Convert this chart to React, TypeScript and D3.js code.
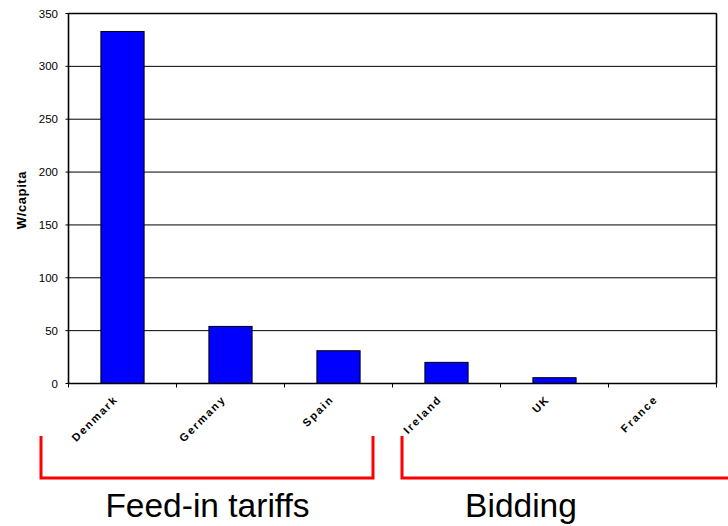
import React from "react";
import * as d3 from "d3";

const categories = ["Denmark", "Germany", "Spain", "Ireland", "UK", "France"];
const values = [333, 54, 31, 20, 5.5, 0];
const yTicks = [0, 50, 100, 150, 200, 250, 300, 350];
const yLabel = "W/capita";
const groups = [
  { label: "Feed-in tariffs", from: 41, to: 373, open: false },
  { label: "Bidding", from: 402, to: 740, open: true },
];

const W = 728;
const H = 526;
const plot = { left: 68.5, right: 716.5, top: 13.5, bottom: 383.5 };

export default function App() {
  const x = d3
    .scaleBand<string>()
    .domain(categories)
    .range([plot.left, plot.right])
    .paddingInner(0.6)
    .paddingOuter(0.3);
  const band = d3.scaleBand<string>().domain(categories).range([plot.left, plot.right]);
  const y = d3.scaleLinear().domain([0, 350]).range([plot.bottom, plot.top]);

  const font = "Arial, 'Liberation Sans', sans-serif";

  return (
    <svg
      width={W}
      height={H}
      style={{ position: "absolute", left: 0, top: 0, background: "#fff" }}
      fontFamily={font}
    >
      {/* gridlines */}
      {yTicks.map((t) => (
        <line
          key={"g" + t}
          x1={plot.left}
          x2={plot.right}
          y1={y(t)}
          y2={y(t)}
          stroke="#000"
          strokeWidth={1}
        />
      ))}
      {/* plot frame */}
      <line x1={plot.left} x2={plot.right} y1={plot.top} y2={plot.top} stroke="#000" strokeWidth={1.6} />
      <line x1={plot.right} x2={plot.right} y1={plot.top} y2={plot.bottom} stroke="#000" strokeWidth={1.6} />
      {/* bars */}
      {categories.map((c, i) => (
        <rect
          key={c}
          x={x(c)}
          width={x.bandwidth()}
          y={y(values[i])}
          height={y(0) - y(values[i])}
          fill="#0000ff"
          stroke="#000"
          strokeWidth={1}
        />
      ))}
      {/* axes */}
      <line x1={plot.left} x2={plot.left} y1={plot.top} y2={plot.bottom} stroke="#000" strokeWidth={1.6} />
      <line x1={plot.left} x2={plot.right} y1={plot.bottom} y2={plot.bottom} stroke="#000" strokeWidth={1.6} />
      {yTicks.map((t) => (
        <g key={"t" + t}>
          <line x1={plot.left - 3} x2={plot.left} y1={y(t)} y2={y(t)} stroke="#000" />
          <text x={58} y={y(t)} dy="0.35em" textAnchor="end" fontSize={11.5} fill="#000">
            {t}
          </text>
        </g>
      ))}
      {categories.map((c) => (
        <line
          key={"xt" + c}
          x1={band(c)!}
          x2={band(c)!}
          y1={plot.bottom}
          y2={plot.bottom + 4}
          stroke="#000"
        />
      ))}
      <line x1={plot.right} x2={plot.right} y1={plot.bottom} y2={plot.bottom + 4} stroke="#000" />
      {categories.map((c) => {
        const cx = band(c)! + band.bandwidth() / 2 - 4;
        const cy = 400;
        return (
          <text
            key={"l" + c}
            transform={`translate(${cx},${cy}) rotate(-45)`}
            textAnchor="end"
            fontSize={11}
            fontWeight="bold"
            letterSpacing={1.8}
            fill="#000"
          >
            {c}
          </text>
        );
      })}
      <text
        transform={`translate(${26},${200}) rotate(-90)`}
        textAnchor="middle"
        fontSize={13}
        fontWeight="bold"
        letterSpacing={0.6}
        fill="#000"
      >
        {yLabel}
      </text>
      {/* group brackets */}
      {groups.map((g) => (
        <g key={g.label}>
          <path
            d={
              g.open
                ? `M${g.from},436V478H${g.to}`
                : `M${g.from},436V478H${g.to}V436`
            }
            fill="none"
            stroke="#ff0000"
            strokeWidth={3}
          />
          <text
            x={g.open ? 521 : 207.5}
            y={517}
            textAnchor="middle"
            fontSize={33.5}
            fill="#000"
          >
            {g.label}
          </text>
        </g>
      ))}
    </svg>
  );
}
